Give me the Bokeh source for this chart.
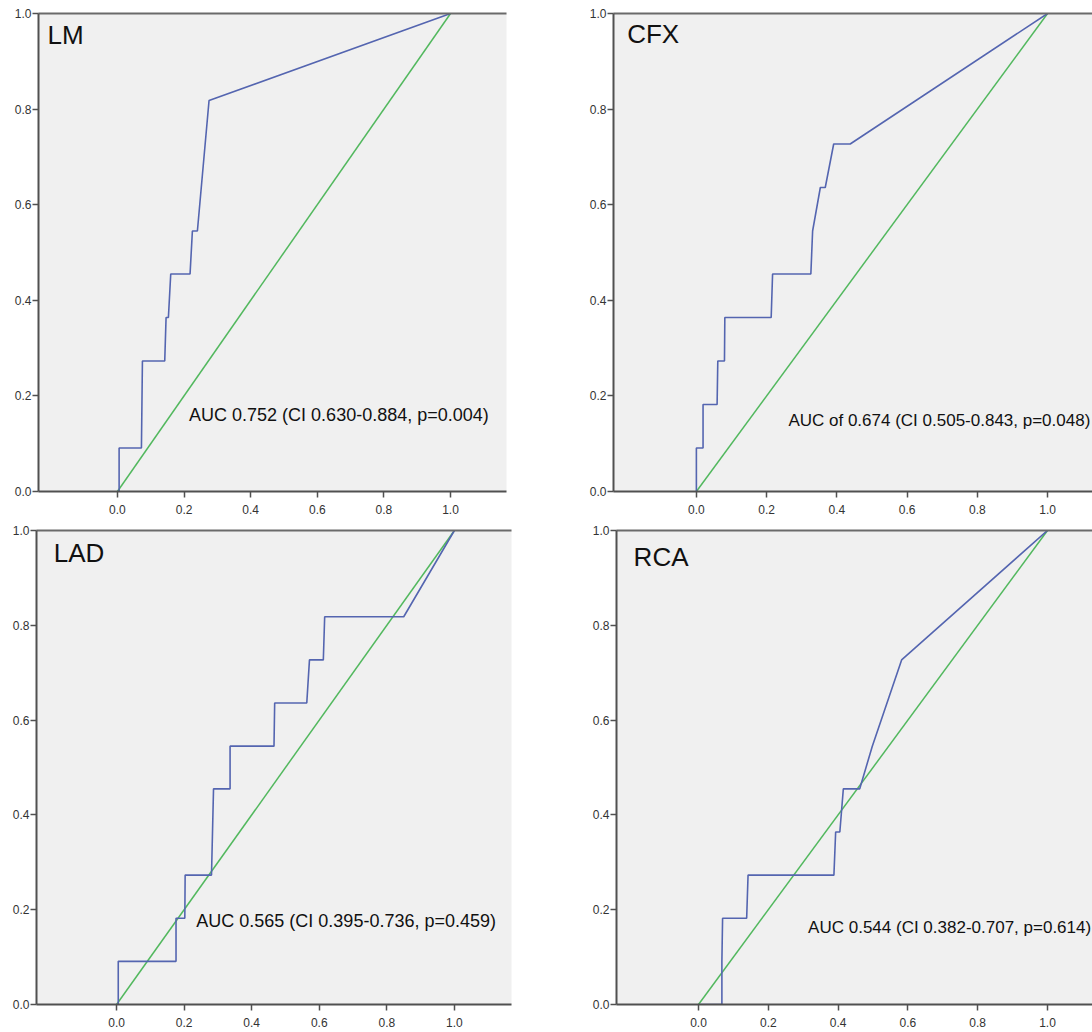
from bokeh.plotting import figure
from bokeh.layouts import column, row
from bokeh.models import Range1d, FixedTicker, PrintfTickFormatter, LinearAxis, Label
from bokeh.embed import file_html
from bokeh.resources import INLINE

# ---- data ----
panel_names = ["LM", "CFX", "LAD", "RCA"]
auc_texts = [
    "AUC 0.752 (CI 0.630-0.884, p=0.004)",
    "AUC of 0.674 (CI 0.505-0.843, p=0.048)",
    "AUC 0.565 (CI 0.395-0.736, p=0.459)",
    "AUC 0.544 (CI 0.382-0.707, p=0.614)",
]

lm_fpr = [0, 0.005, 0.005, 0.072, 0.075, 0.142, 0.146, 0.153, 0.160, 0.218, 0.225, 0.240, 0.275, 1.0]
lm_tpr = [0, 0, 0.091, 0.091, 0.273, 0.273, 0.364, 0.364, 0.455, 0.455, 0.545, 0.545, 0.818, 1.0]

cfx_fpr = [0, 0, 0.019, 0.019, 0.059, 0.061, 0.080, 0.081, 0.213, 0.217, 0.326, 0.331, 0.353, 0.367, 0.391, 0.438, 1.0]
cfx_tpr = [0, 0.091, 0.091, 0.182, 0.182, 0.273, 0.273, 0.364, 0.364, 0.455, 0.455, 0.545, 0.636, 0.636, 0.727, 0.727, 1.0]

lad_fpr = [0, 0.005, 0.005, 0.176, 0.176, 0.202, 0.203, 0.281, 0.287, 0.336, 0.336, 0.466, 0.468, 0.563, 0.571, 0.612, 0.616, 0.850, 1.0]
lad_tpr = [0, 0, 0.091, 0.091, 0.182, 0.182, 0.273, 0.273, 0.455, 0.455, 0.545, 0.545, 0.636, 0.636, 0.727, 0.727, 0.818, 0.818, 1.0]

rca_fpr = [0, 0.067, 0.067, 0.069, 0.138, 0.142, 0.388, 0.393, 0.405, 0.415, 0.462, 0.498, 0.582, 1.0]
rca_tpr = [0, 0, 0.091, 0.182, 0.182, 0.273, 0.273, 0.364, 0.364, 0.455, 0.455, 0.545, 0.727, 1.0]

ref_x = [0.0, 1.0]
ref_y = [0.0, 1.0]
tick_values = [0.0, 0.2, 0.4, 0.6, 0.8, 1.0]

BLUE = "#5465b0"
GREEN = "#52b85e"
AXIS = "#505050"
TICK_FONT = "Liberation Sans"


def make_panel(name, fpr, tpr, auc, width, height, bl, br, bt, bb, xr,
               name_pos, auc_pos, auc_size):
    p = figure(width=width, height=height, output_backend="svg",
               toolbar_location=None,
               x_range=Range1d(*xr), y_range=Range1d(0, 1),
               min_border_left=bl, min_border_right=br,
               min_border_top=bt, min_border_bottom=bb)
    p.background_fill_color = "#f0f0f0"
    p.border_fill_color = "white"
    p.outline_line_color = None
    p.grid.visible = False

    for ax in (p.xaxis[0], p.yaxis[0]):
        ax.ticker = FixedTicker(ticks=tick_values)
        ax.formatter = PrintfTickFormatter(format="%.1f")
        ax.axis_line_color = AXIS
        ax.axis_line_width = 2
        ax.major_tick_line_color = AXIS
        ax.major_tick_line_width = 1.5
        ax.major_tick_in = 0
        ax.major_tick_out = 6
        ax.minor_tick_line_color = None
        ax.major_label_text_font = TICK_FONT
        ax.major_label_text_font_size = "12px"
        ax.major_label_text_color = "#333333"
    p.xaxis[0].major_label_standoff = 7
    p.yaxis[0].major_label_standoff = 1

    top = LinearAxis(ticker=FixedTicker(ticks=[]), axis_line_color="#6a6a6a",
                     axis_line_width=2, major_tick_line_color=None,
                     minor_tick_line_color=None, major_tick_out=0,
                     major_tick_in=0, major_label_text_font_size="0px",
                     major_label_standoff=0)
    p.add_layout(top, "above")

    p.line(ref_x, ref_y, line_color=GREEN, line_width=1.5)
    p.line(fpr, tpr, line_color=BLUE, line_width=1.6)

    p.add_layout(Label(x=name_pos[0], y=name_pos[1], text=name,
                       text_font="Liberation Sans", text_font_size="26px",
                       text_color="#111111", text_baseline="middle"))
    p.add_layout(Label(x=auc_pos[0], y=auc_pos[1], text=auc,
                       text_font="Liberation Sans", text_font_size=auc_size,
                       text_color="#111111", text_baseline="middle"))
    return p


p1 = make_panel(panel_names[0], lm_fpr, lm_tpr, auc_texts[0],
                570, 516, 38, 64, 13, 23, (-0.237, 1.168),
                (-0.21, 0.955), (0.215, 0.160), "18px")
p2 = make_panel(panel_names[1], cfx_fpr, cfx_tpr, auc_texts[1],
                522, 516, 43, 0, 7, 24, (-0.236, 1.128),
                (-0.197, 0.957), (0.262, 0.149), "17px")
p3 = make_panel(panel_names[2], lad_fpr, lad_tpr, auc_texts[2],
                570, 516, 36, 59, 10, 28, (-0.237, 1.169),
                (-0.186, 0.952), (0.236, 0.176), "18px")
p4 = make_panel(panel_names[3], rca_fpr, rca_tpr, auc_texts[3],
                522, 516, 46, 0, 14, 27, (-0.235, 1.129),
                (-0.186, 0.945), (0.314, 0.163), "17px")

layout = column(row(p1, p2), row(p3, p4))
open("out.html", "w").write(file_html(layout, INLINE))
